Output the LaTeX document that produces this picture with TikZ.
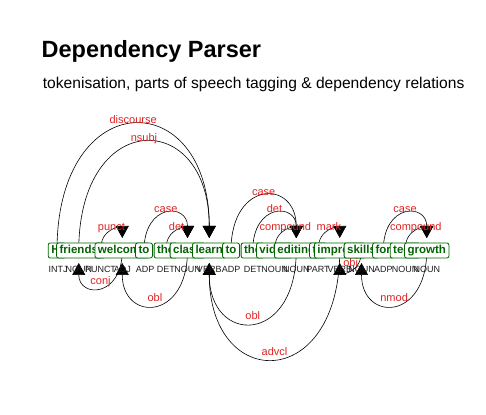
\documentclass[tikz,border=0pt]{standalone}
\usepackage{fontspec}
\setmainfont{Liberation Sans}
\usetikzlibrary{arrows.meta}
\definecolor{tokgreen}{RGB}{0,100,0}
\definecolor{lblred}{RGB}{225,35,35}
\definecolor{postext}{RGB}{30,30,30}
\pgfdeclarelayer{bg}
\pgfdeclarelayer{edges}
\pgfsetlayers{bg,edges,main}
\begin{document}
\begin{tikzpicture}[x=1pt,y=1pt,
  tok/.style={draw=tokgreen, fill=white, text=tokgreen,
    font=\fontsize{11.5}{13}\selectfont\bfseries, rounded corners=2pt,
    inner xsep=3pt, inner ysep=2pt, text height=8.5pt, text depth=2.5pt,
    line width=0.8pt, anchor=center},
  postag/.style={font=\fontsize{9}{10}\selectfont, text=postext, inner sep=0pt, anchor=center},
  dep/.style={draw=black, line width=0.6pt, -{Triangle[length=12pt,width=13pt]}, shorten >=12.5pt},
  above arc/.style={out=90,in=90,looseness=2.8},
  below arc/.style={out=-90,in=-90,looseness=2.8},
  lbl/.style={text=lblred, font=\fontsize{11}{13}\selectfont, inner sep=0pt, anchor=base, yshift=2pt},
  titlestyle/.style={anchor=base west, inner sep=0pt, font=\fontsize{23.5}{28}\selectfont\bfseries},
  subtitlestyle/.style={anchor=base west, inner sep=0pt, font=\fontsize{15.6}{19}\selectfont},
]
\begin{pgfonlayer}{bg}
\fill[white] (0,0) rectangle (486,414);
\end{pgfonlayer}
\useasboundingbox (0,0) rectangle (486,414);

\node[titlestyle] (title) at (41.5,356) {Dependency Parser};
\node[subtitlestyle] (subtitle) at (42.7,325) {tokenisation, parts of speech tagging \& dependency relations};

% tokens
\node[tok] (t0) at (57,163.5) {Hi};
\node[tok] (t1) at (78.75,163.5) {friends};
\node[tok] (t2) at (100.5,163.5) {,};
\node[tok] (t3) at (122.25,163.5) {welcome};
\node[tok] (t4) at (144,163.5) {to};
\node[tok] (t5) at (165.75,163.5) {the};
\node[tok] (t6) at (187.5,163.5) {class};
\node[tok] (t7) at (209.25,163.5) {learn};
\node[tok] (t8) at (231,163.5) {to};
\node[tok] (t9) at (252.75,163.5) {the};
\node[tok] (t10) at (274.5,163.5) {video};
\node[tok] (t11) at (296.25,163.5) {editing};
\node[tok] (t12) at (318,163.5) {to};
\node[tok] (t13) at (339.75,163.5) {improve};
\node[tok] (t14) at (361.5,163.5) {skills};
\node[tok] (t15) at (383.25,163.5) {for};
\node[tok] (t16) at (405,163.5) {tech};
\node[tok] (t17) at (426.75,163.5) {growth};

% parts of speech
\node[postag] (p0) at (58,145) {INTJ};
\node[postag] (p1) at (78.75,145) {NOUN};
\node[postag] (p2) at (100.5,145) {PUNCT};
\node[postag] (p3) at (122.25,145) {ADJ};
\node[postag] (p4) at (145,145) {ADP};
\node[postag] (p5) at (165.75,145) {DET};
\node[postag] (p6) at (187.5,145) {NOUN};
\node[postag] (p7) at (209.25,145) {VERB};
\node[postag] (p8) at (231,145) {ADP};
\node[postag] (p9) at (252.75,145) {DET};
\node[postag] (p10) at (274.5,145) {NOUN};
\node[postag] (p11) at (296.25,145) {NOUN};
\node[postag] (p12) at (318,145) {PART};
\node[postag] (p13) at (339.75,145) {VERB};
\node[postag] (p14) at (361.5,145) {NOUN};
\node[postag] (p15) at (383.25,145) {ADP};
\node[postag] (p16) at (405,145) {NOUN};
\node[postag] (p17) at (426.75,145) {NOUN};

\begin{pgfonlayer}{edges}
% arcs above
\draw[dep] (t0.center) to[above arc] node[lbl,pos=0.5] {discourse} (t7.center);
\draw[dep] (t1.center) to[above arc] node[lbl,pos=0.5] {nsubj} (t7.center);
\draw[dep] (t2.center) to[above arc] node[lbl,pos=0.5] {punct} (t3.center);
\draw[dep] (t4.center) to[above arc] node[lbl,pos=0.5] {case} (t6.center);
\draw[dep] (t5.center) to[above arc] node[lbl,pos=0.5] {det} (t6.center);
\draw[dep] (t8.center) to[above arc] node[lbl,pos=0.5] {case} (t11.center);
\draw[dep] (t9.center) to[above arc] node[lbl,pos=0.5] {det} (t11.center);
\draw[dep] (t10.center) to[above arc] node[lbl,pos=0.5] {compound} (t11.center);
\draw[dep] (t12.center) to[above arc] node[lbl,pos=0.5] {mark} (t13.center);
\draw[dep] (t15.center) to[above arc] node[lbl,pos=0.5] {case} (t17.center);
\draw[dep] (t16.center) to[above arc] node[lbl,pos=0.5] {compound} (t17.center);
% arcs below
\draw[dep] (t3.center) to[below arc] node[lbl,pos=0.5] {conj} (t1.center);
\draw[dep] (t6.center) to[below arc] node[lbl,pos=0.5] {obl} (t3.center);
\draw[dep] (t11.center) to[below arc] node[lbl,pos=0.5] {obl} (t7.center);
\draw[dep] (t13.center) to[below arc] node[lbl,pos=0.5] {advcl} (t7.center);
\draw[dep] (t14.center) to[below arc] node[lbl,pos=0.5] {obj} (t13.center);
\draw[dep] (t17.center) to[below arc] node[lbl,pos=0.5] {nmod} (t14.center);
\end{pgfonlayer}
\end{tikzpicture}
\end{document}
